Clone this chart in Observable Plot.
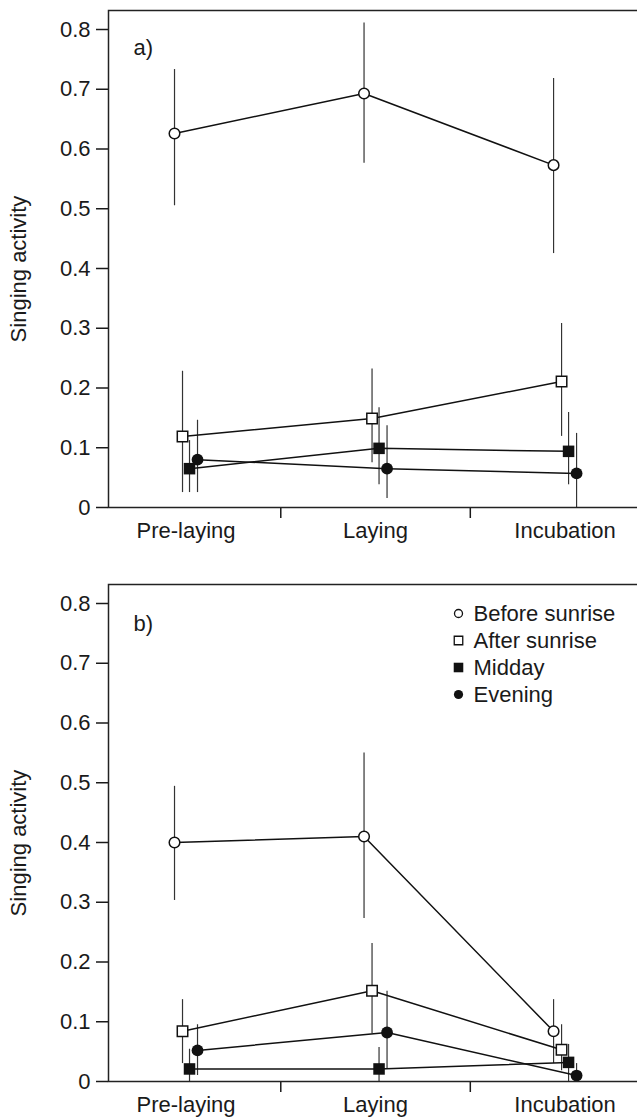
<!DOCTYPE html>
<html><head><meta charset="utf-8">
<script src="https://cdn.jsdelivr.net/npm/d3@7"></script>
<script src="https://cdn.jsdelivr.net/npm/@observablehq/plot@0.6"></script>
<style>
html,body{margin:0;padding:0;background:#fff;overflow:hidden;}
#chart{width:637px;height:1117px;overflow:hidden;}
#chart svg{display:block;}
</style></head><body><div id="chart"></div>
<script>
// ---- data ----
const phases = ["Pre-laying", "Laying", "Incubation"];
const seriesNames = ["Before sunrise", "After sunrise", "Midday", "Evening"];
const yTicks = [0, 0.1, 0.2, 0.3, 0.4, 0.5, 0.6, 0.7, 0.8];

// panel a) means and error-bar ends
const aBefore = [0.626, 0.693, 0.573];
const aBeforeLo = [0.505, 0.576, 0.425];
const aBeforeHi = [0.733, 0.811, 0.718];
const aAfter = [0.119, 0.149, 0.211];
const aAfterLo = [0.025, 0.075, 0.119];
const aAfterHi = [0.228, 0.232, 0.308];
const aMidday = [0.065, 0.099, 0.094];
const aMiddayLo = [0.025, 0.038, 0.038];
const aMiddayHi = [0.112, 0.167, 0.159];
const aEvening = [0.080, 0.065, 0.057];
const aEveningLo = [0.025, 0.015, 0.0];
const aEveningHi = [0.146, 0.137, 0.124];

// panel b)
const bBefore = [0.400, 0.410, 0.084];
const bBeforeLo = [0.303, 0.273, 0.030];
const bBeforeHi = [0.494, 0.550, 0.137];
const bAfter = [0.084, 0.152, 0.053];
const bAfterLo = [0.030, 0.080, 0.018];
const bAfterHi = [0.137, 0.231, 0.095];
const bMidday = [0.021, 0.021, 0.032];
const bMiddayLo = [0.0, 0.0, 0.0];
const bMiddayHi = [0.054, 0.057, 0.062];
const bEvening = [0.052, 0.082, 0.010];
const bEveningLo = [0.010, 0.020, 0.0];
const bEveningHi = [0.095, 0.151, 0.030];

// ---- styles ----
const style = {
  "Before sunrise": {symbol: "circle", fill: "white", stroke: "#111", r: 5.3, lr: 4.0, dx: -11.5},
  "After sunrise":  {symbol: "square", fill: "white", stroke: "#111", r: 5.9, lr: 4.8, dx: -3.5},
  "Midday":         {symbol: "square", fill: "#111", stroke: "none", r: 6.5, lr: 5.4, dx: 3.5},
  "Evening":        {symbol: "circle", fill: "#111", stroke: "none", r: 5.9, lr: 4.6, dx: 11.5}
};

function rows(vals, lo, hi) {
  return phases.map((p, i) => ({phase: i, value: vals[i], lo: lo[i], hi: hi[i]}));
}

const panelA = {
  tag: "a)",
  data: {
    "Before sunrise": rows(aBefore, aBeforeLo, aBeforeHi),
    "After sunrise": rows(aAfter, aAfterLo, aAfterHi),
    "Midday": rows(aMidday, aMiddayLo, aMiddayHi),
    "Evening": rows(aEvening, aEveningLo, aEveningHi)
  }
};
const panelB = {
  tag: "b)",
  data: {
    "Before sunrise": rows(bBefore, bBeforeLo, bBeforeHi),
    "After sunrise": rows(bAfter, bAfterLo, bAfterHi),
    "Midday": rows(bMidday, bMiddayLo, bMiddayHi),
    "Evening": rows(bEvening, bEveningLo, bEveningHi)
  }
};

const FONT = "'Liberation Sans', Arial, Helvetica, sans-serif";
const INK = "#1a1a1a";

function makePanel(panel, {height, marginTop, marginBottom, tagDy, legend}) {
  const marks = [];
  // error bars
  for (const s of seriesNames) {
    marks.push(Plot.ruleX(panel.data[s], {x: "phase", y1: "lo", y2: "hi", dx: style[s].dx, stroke: "#333", strokeWidth: 1.2}));
  }
  // connecting lines
  for (const s of seriesNames) {
    marks.push(Plot.line(panel.data[s], {x: "phase", y: "value", dx: style[s].dx, stroke: "#111", strokeWidth: 1.5}));
  }
  // markers
  for (const s of seriesNames) {
    const st = style[s];
    marks.push(Plot.dot(panel.data[s], {x: "phase", y: "value", dx: st.dx, symbol: st.symbol, r: st.r, fill: st.fill, stroke: st.stroke, strokeWidth: 1.5}));
  }
  // axes
  marks.push(Plot.axisY({ticks: yTicks, tickSize: 12, tickPadding: 6, strokeWidth: 1.5, fontSize: 22, fill: INK,
    tickFormat: d => d === 0 ? "0" : d.toFixed(1), label: null}));
  marks.push(Plot.axisX({ticks: phases.map((_, i) => i), tickSize: 0, tickPadding: 15, fontSize: 22, fill: INK,
    tickFormat: i => phases[i], label: null}));
  marks.push(Plot.axisX({ticks: d3.range(1, phases.length).map(i => i - 0.5), tickSize: 11, strokeWidth: 1.5,
    tickFormat: () => "", label: null}));
  marks.push(Plot.frame({stroke: "#222", strokeWidth: 1.5}));
  // y label
  marks.push(Plot.text(["Singing activity"], {frameAnchor: "left", lineAnchor: "middle", textAnchor: "middle", rotate: -90, dx: -90, dy: 10, fontSize: 22, fill: INK}));
  // panel tag
  marks.push(Plot.text([panel.tag], {frameAnchor: "top-left", lineAnchor: "middle", dx: 25, dy: tagDy, textAnchor: "start", fontSize: 22, fill: INK}));
  // legend
  if (legend) {
    seriesNames.forEach((s, i) => {
      const st = style[s];
      marks.push(Plot.dot([s], {frameAnchor: "top-left", dx: 350, dy: 29 + 27 * i, symbol: st.symbol, r: st.lr,
        fill: st.fill, stroke: st.stroke, strokeWidth: 1.3}));
      marks.push(Plot.text([s], {frameAnchor: "top-left", lineAnchor: "middle", dx: 365, dy: 29 + 27 * i, text: d => d, textAnchor: "start",
        fontSize: 22, fill: INK}));
    });
  }
  return Plot.plot({
    width: 640,
    height,
    marginLeft: 108,
    marginRight: 0,
    marginTop,
    marginBottom,
    x: {type: "linear", domain: [-0.409, 2.398]},
    y: {domain: [0, 0.8318]},
    style: {fontFamily: FONT, fontSize: "22px", color: INK, background: "white", maxWidth: "none", overflow: "visible"},
    marks
  });
}

const chart = document.getElementById("chart");
chart.appendChild(makePanel(panelA, {height: 550, marginTop: 10, marginBottom: 43, tagDy: 37, legend: false}));
chart.appendChild(makePanel(panelB, {height: 567, marginTop: 34, marginBottom: 36, tagDy: 39, legend: true}));
</script>
</body></html>
